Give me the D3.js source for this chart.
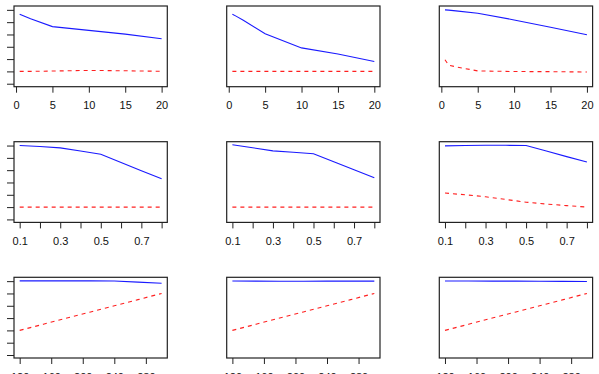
<!DOCTYPE html>
<html>
<head>
<meta charset="utf-8">
<script src="https://cdn.jsdelivr.net/npm/d3@7"></script>
<style>
  html, body { margin: 0; padding: 0; background: #fff; }
  svg { display: block; }
  text { font-family: "Liberation Sans", Arial, sans-serif; }
</style>
</head>
<body>
<svg id="chart" width="599" height="374"></svg>
<script>
// ---------- data ----------
const xRow1 = [0.5, 1, 2, 5, 10, 15, 20];
const xRow2 = [0.1, 0.2, 0.3, 0.4, 0.5, 0.6, 0.7, 0.8];
const xRow3 = [120, 150, 180, 210, 240, 270, 300];

const xTicksRow1 = [0, 5, 10, 15, 20];
const xLabelsRow1 = ["0", "5", "10", "15", "20"];
const xTicksRow2 = [0.1, 0.2, 0.3, 0.4, 0.5, 0.6, 0.7, 0.8];
const xLabelsRow2 = ["0.1", "", "0.3", "", "0.5", "", "0.7", ""];
const xTicksRow3 = [120, 160, 200, 240, 280];
const xLabelsRow3 = ["120", "160", "200", "240", "280"];
const yTicks = [0, 0.1, 0.2, 0.3, 0.4, 0.5, 0.6];
const yLimits = [0, 0.607];

// blue solid series
const blue11 = [0.565, 0.552, 0.527, 0.464, 0.433, 0.403, 0.365];
const blue12 = [0.565, 0.549, 0.516, 0.406, 0.291, 0.242, 0.181];
const blue13 = [0.600, 0.598, 0.592, 0.573, 0.518, 0.458, 0.398];
const blue21 = [0.600, 0.592, 0.581, 0.556, 0.529, 0.462, 0.396, 0.330];
const blue22 = [0.606, 0.582, 0.557, 0.545, 0.533, 0.468, 0.403, 0.338];
const blue23 = [0.597, 0.600, 0.603, 0.602, 0.600, 0.555, 0.510, 0.466];
const blue31 = [0.602, 0.602, 0.602, 0.602, 0.601, 0.592, 0.583];
const blue32 = [0.601, 0.600, 0.599, 0.599, 0.600, 0.600, 0.600];
const blue33 = [0.601, 0.601, 0.600, 0.600, 0.599, 0.598, 0.597];

// red dashed series
const red11 = [0.100, 0.100, 0.100, 0.103, 0.108, 0.105, 0.101];
const red12 = [0.100, 0.100, 0.100, 0.100, 0.100, 0.100, 0.100];
const red13 = [0.195, 0.151, 0.137, 0.104, 0.099, 0.098, 0.095];
const red21 = [0.100, 0.100, 0.100, 0.100, 0.100, 0.100, 0.100, 0.100];
const red22 = [0.100, 0.100, 0.100, 0.100, 0.100, 0.100, 0.100, 0.100];
const red23 = [0.214, 0.200, 0.184, 0.162, 0.140, 0.125, 0.112, 0.100];
const red31 = [0.200, 0.250, 0.300, 0.350, 0.400, 0.450, 0.500];
const red32 = [0.200, 0.250, 0.300, 0.350, 0.400, 0.450, 0.500];
const red33 = [0.200, 0.250, 0.300, 0.350, 0.400, 0.450, 0.500];

const rows = [
  { x: xRow1, ticks: xTicksRow1, labels: xLabelsRow1, blue: [blue11, blue12, blue13], red: [red11, red12, red13] },
  { x: xRow2, ticks: xTicksRow2, labels: xLabelsRow2, blue: [blue21, blue22, blue23], red: [red21, red22, red23] },
  { x: xRow3, ticks: xTicksRow3, labels: xLabelsRow3, blue: [blue31, blue32, blue33], red: [red31, red32, red33] }
];

// ---------- layout ----------
const colLeft = [14, 226.7, 439.3];
const rowTop = [6, 141.7, 277.3];
const boxW = 153.3, boxH = 80.7;

const svg = d3.select("#chart");

function padded(ext) {
  const p = (ext[1] - ext[0]) * 0.04;
  return [ext[0] - p, ext[1] + p];
}

rows.forEach((row, r) => {
  for (let c = 0; c < 3; c++) {
    const L = colLeft[c], T = rowTop[r];
    const x = d3.scaleLinear().domain(padded(d3.extent(row.x))).range([L, L + boxW]);
    const y = d3.scaleLinear().domain(padded(yLimits)).range([T + boxH, T]);
    const g = svg.append("g");

    const line = vals => d3.line().x((d, i) => x(row.x[i])).y(d => y(d))(vals);

    g.append("path").attr("d", line(row.red[c]))
      .attr("fill", "none").attr("stroke", "#ff2020").attr("stroke-width", 1.1)
      .attr("stroke-dasharray", "4,4");
    g.append("path").attr("d", line(row.blue[c]))
      .attr("fill", "none").attr("stroke", "#1a1aff").attr("stroke-width", 1.1);

    // box
    g.append("rect").attr("x", L).attr("y", T).attr("width", boxW).attr("height", boxH)
      .attr("fill", "none").attr("stroke", "#222").attr("stroke-width", 1.2);

    // x axis
    const xAxis = d3.axisBottom(x).tickValues(row.ticks)
      .tickFormat((d, i) => row.labels[i]).tickSize(6).tickPadding(8.8).tickSizeOuter(0);
    const ax = g.append("g").attr("transform", `translate(0,${T + boxH})`).call(xAxis);
    ax.select(".domain").remove();
    ax.selectAll(".tick line").attr("stroke", "#222");
    ax.selectAll(".tick text").attr("font-size", "11px").attr("fill", "#111")
      .attr("font-family", "'Liberation Sans', Arial, sans-serif");

    // y axis (left column only, no labels)
    if (c === 0) {
      const yAxis = d3.axisLeft(y).tickValues(yTicks).tickFormat("").tickSize(7).tickSizeOuter(0);
      const ay = g.append("g").attr("transform", `translate(${L},0)`).call(yAxis);
      ay.select(".domain").remove();
      ay.selectAll(".tick line").attr("stroke", "#222");
    }
  }
});
</script>
</body>
</html>
